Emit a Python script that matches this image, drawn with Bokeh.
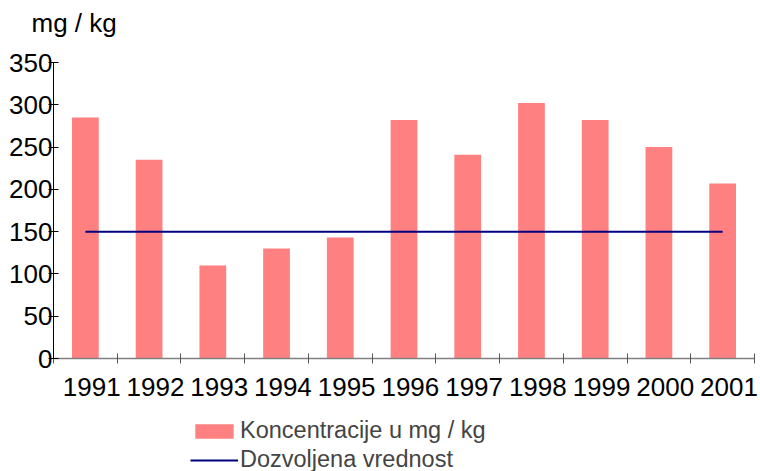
from bokeh.plotting import figure
from bokeh.models import Range1d, FixedTicker, Legend, LegendItem, Label
from bokeh.embed import file_html
from bokeh.resources import INLINE

years = ["1991", "1992", "1993", "1994", "1995", "1996", "1997", "1998", "1999", "2000", "2001"]
concentrations = [285, 235, 110, 130, 143, 282, 241, 302, 282, 250, 207]
limit_values = [150, 150, 150, 150, 150, 150, 150, 150, 150, 150, 150]
y_ticks = [0, 50, 100, 150, 200, 250, 300, 350]
y_max = 350
unit_title = "mg / kg"

FONT = "Liberation Sans"

# layout (pixels): the frame fills the whole canvas, axes are pinned inside it
W, H = 760, 471
PLOT_L, PLOT_R = 53, 754      # x pixel extent of the category area
PLOT_T, PLOT_B = 62, 358      # y pixel of value 350 and of value 0
n = len(years)
cat_px = (PLOT_R - PLOT_L) / n
x_start = -PLOT_L / cat_px
x_end = n + (W - PLOT_R) / cat_px
unit_px = (PLOT_B - PLOT_T) / y_max
y_top = y_max + PLOT_T / unit_px
y_bottom = -(H - PLOT_B) / unit_px

xc = [i + 0.5 for i in range(n)]
label_pos = [v + 0.1 for v in xc]
bounds = list(range(n + 1))

p = figure(width=W, height=H, x_range=Range1d(x_start, x_end), y_range=Range1d(y_bottom, y_top),
           output_backend="svg", toolbar_location=None,
           min_border_left=0, min_border_right=0, min_border_top=0, min_border_bottom=0)
p.title.text = ""

bars = p.vbar(x=xc, top=concentrations, width=0.42, fill_color="#FF8080", line_color=None)
line = p.line(xc, limit_values, line_color="#000080", line_width=2)

p.xgrid.visible = False
p.ygrid.visible = False
p.outline_line_color = None

xa = p.xaxis[0]
xa.fixed_location = 0
xa.bounds = (0, n)
xa.ticker = FixedTicker(ticks=label_pos, minor_ticks=bounds)
xa.major_label_overrides = {v: yr for v, yr in zip(label_pos, years)}
xa.major_tick_in = 0
xa.major_tick_out = 0
xa.minor_tick_in = 5
xa.minor_tick_out = 5
xa.minor_tick_line_color = "#555555"
xa.axis_line_color = "#808080"
xa.axis_line_width = 1.5
xa.major_label_standoff = 14
xa.major_label_text_font = FONT
xa.major_label_text_font_size = "26px"
xa.major_label_text_color = "black"

ya = p.yaxis[0]
ya.fixed_location = 0
ya.ticker = FixedTicker(ticks=y_ticks)
ya.bounds = (0, y_max)
ya.major_tick_in = 5
ya.major_tick_out = 5
ya.minor_tick_line_color = None
ya.axis_line_color = "black"
ya.major_tick_line_color = "black"
ya.major_label_standoff = -4
ya.major_label_text_font = FONT
ya.major_label_text_font_size = "26px"
ya.major_label_text_color = "black"

title = Label(x=31, y=H - 22, x_units="screen", y_units="screen", text=unit_title,
              text_font=FONT, text_font_size="26px", text_color="black",
              text_align="left", text_baseline="alphabetic")
p.add_layout(title)

legend = Legend(items=[LegendItem(label="Koncentracije u mg / kg", renderers=[bars]),
                       LegendItem(label="Dozvoljena vrednost", renderers=[line])],
                location=(190, -3), orientation="vertical",
                glyph_width=48, glyph_height=18, label_height=29, spacing=0,
                padding=0, margin=0, border_line_color=None, background_fill_alpha=0,
                label_standoff=2, label_text_font=FONT, label_text_font_size="23.5px")
p.add_layout(legend)

open("out.html", "w").write(file_html(p, INLINE))
